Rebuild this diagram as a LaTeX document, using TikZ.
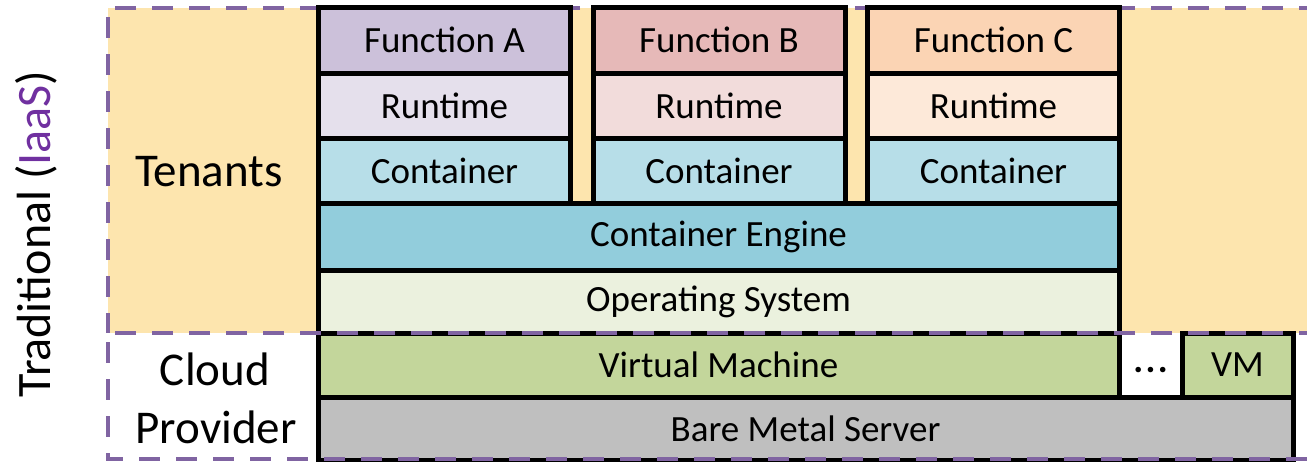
\documentclass[tikz,border=0pt]{standalone}
\usepackage{fontspec}
\setmainfont{Carlito}
\usepackage{xcolor}
\usetikzlibrary{positioning,calc}

\definecolor{tenantbg}{HTML}{FDE5AE}
\definecolor{dashpurple}{HTML}{8064A2}
\definecolor{iaaspurple}{HTML}{7030A0}
\definecolor{funA}{HTML}{CCC1DA}
\definecolor{runA}{HTML}{E5E0EC}
\definecolor{funB}{HTML}{E6B9B8}
\definecolor{runB}{HTML}{F2DCDB}
\definecolor{funC}{HTML}{FBD4B4}
\definecolor{runC}{HTML}{FDE9D9}
\definecolor{contcol}{HTML}{B7DEE8}
\definecolor{enginecol}{HTML}{92CDDC}
\definecolor{oscol}{HTML}{EBF1DE}
\definecolor{vmcol}{HTML}{C3D69B}
\definecolor{metalcol}{HTML}{BFBFBF}

\begin{document}
\begin{tikzpicture}[
	x=0.5pt, y=-0.5pt,
	layer/.style={draw=black, line width=2.5pt, inner sep=0pt, font=\fontsize{18.5}{20}\selectfont},
	colbox/.style={layer, minimum width=126pt, minimum height=32.5pt},
	widebox/.style={layer, minimum width=400.5pt},
	region/.style={draw=dashpurple, line width=2pt, dash pattern=on 10.5pt off 8pt},
	sidetext/.style={font=\fontsize{23.5}{25}\selectfont, align=center}
	]
	\useasboundingbox (0,0) rectangle (1307,461);
	% ===== TENANT REGION =====
	\fill[tenantbg] (108,8) rectangle (1320,333);
	\draw[region] (1320,8) -- (108,8) -- (108,333);

	% ===== FUNCTION COLUMNS =====
	\node[colbox, fill=funA, minimum height=33pt] (fnA) at (444.5,40) {Function A};
	\node[colbox, fill=runA] (rtA) at (444.5,105.5) {Runtime};
	\node[colbox, fill=contcol] (ctA) at (444.5,170.5) {Container};

	\node[colbox, fill=funB, minimum height=33pt] (fnB) at (719,40) {Function B};
	\node[colbox, fill=runB] (rtB) at (719,105.5) {Runtime};
	\node[colbox, fill=contcol] (ctB) at (719,170.5) {Container};

	\node[colbox, fill=funC, minimum height=33pt] (fnC) at (993.5,40) {Function C};
	\node[colbox, fill=runC] (rtC) at (993.5,105.5) {Runtime};
	\node[colbox, fill=contcol] (ctC) at (993.5,170.5) {Container};

	% ===== SHARED LAYERS =====
	\node[widebox, fill=enginecol, minimum height=33.5pt] (engine) at (718.5,236.5) {Container Engine};
	\node[widebox, fill=oscol, minimum height=31.5pt] (os) at (718.5,301.5) {Operating System};
	\node[widebox, fill=vmcol, minimum height=32pt] (vm) at (718.5,365) {Virtual Machine};
	\node[font=\fontsize{18.5}{20}\selectfont\bfseries] (dots) at (1150.5,370) {.\kern1.2pt.\kern1.2pt.};
	\node[layer, fill=vmcol, minimum width=55.5pt, minimum height=32pt] (vmB) at (1237.5,365) {VM};
	\node[layer, fill=metalcol, minimum width=487.5pt, minimum height=31.5pt] (metal) at (805.5,428.5) {Bare Metal Server};

	% ===== CLOUD PROVIDER REGION =====
	\draw[region] (1320,333) -- (108,333) -- (108,459) -- (1320,459);

	% ===== LABELS =====
	\node[sidetext] (tenants) at (209,172) {Tenants};
	\node[sidetext] (cloud) at (215,369) {Cloud};
	\node[sidetext] (provider) at (216,427) {Provider};
	\node[font=\fontsize{24}{26}\selectfont, rotate=90] (trad) at (36,234) {Traditional (\textcolor{iaaspurple}{IaaS})};
\end{tikzpicture}
\end{document}
